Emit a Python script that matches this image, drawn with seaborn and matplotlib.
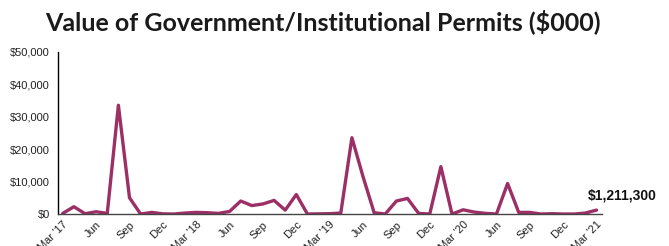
import numpy as np
import pandas as pd
import matplotlib
matplotlib.use('Agg')
import matplotlib.pyplot as plt
import seaborn as sns

# Datos (miles de $), mensual Mar '17 - Mar '21
meses = ['Mar 17', 'Apr 17', 'May 17', 'Jun 17', 'Jul 17', 'Aug 17', 'Sep 17', 'Oct 17', 'Nov 17', 'Dec 17',
         'Jan 18', 'Feb 18', 'Mar 18', 'Apr 18', 'May 18', 'Jun 18', 'Jul 18', 'Aug 18', 'Sep 18', 'Oct 18',
         'Nov 18', 'Dec 18', 'Jan 19', 'Feb 19', 'Mar 19', 'Apr 19', 'May 19', 'Jun 19', 'Jul 19', 'Aug 19',
         'Sep 19', 'Oct 19', 'Nov 19', 'Dec 19', 'Jan 20', 'Feb 20', 'Mar 20', 'Apr 20', 'May 20', 'Jun 20',
         'Jul 20', 'Aug 20', 'Sep 20', 'Oct 20', 'Nov 20', 'Dec 20', 'Jan 21', 'Feb 21', 'Mar 21']
valores = [200, 2250, 100, 700, 200, 33500, 5000, 0, 500, 50,
           0, 300, 500, 400, 200, 800, 4000, 2600, 3100, 4200,
           1200, 6000, 0, 50, 100, 300, 23500, 11500, 400, 0,
           4000, 4800, 200, 0, 14600, 0, 1300, 600, 200, 0,
           9400, 500, 500, 0, 100, 0, 0, 300, 1211.3]
etiquetas_x = ["Mar '17", 'Jun', 'Sep', 'Dec', "Mar '18", 'Jun', 'Sep', 'Dec', "Mar '19",
               'Jun', 'Sep', 'Dec', "Mar '20", 'Jun', 'Sep', 'Dec', "Mar '21"]
etiqueta_final = '$1,211,300'

COLOR = '#9b2f66'

df = pd.DataFrame({'mes': np.arange(len(valores)), 'valor': valores})

sns.set_style('white')
plt.rcParams['font.family'] = ['Liberation Sans', 'DejaVu Sans']

fig = plt.figure(figsize=(6.69, 2.46), dpi=100)
ax = fig.add_axes([0.0872, 0.130, 0.812, 0.660])

sns.lineplot(data=df, x='mes', y='valor', color=COLOR, linewidth=2.4, ax=ax)

ax.set_xlim(-0.4, len(valores) - 1 + 0.45)
ax.set_ylim(0, 50000)
ax.set_yticks(np.arange(0, 50001, 10000))
ax.set_yticklabels(['${:,.0f}'.format(v) for v in np.arange(0, 50001, 10000)], fontsize=8, color='#222222')
ax.set_xticks(np.arange(0, len(valores), 3))
ax.set_xticklabels(etiquetas_x, rotation=45, ha='right', rotation_mode='anchor', fontsize=8, color='#222222')
ax.tick_params(axis='y', length=0, pad=6)
ax.tick_params(axis='x', length=0, pad=4)
ax.set_xlabel('')
ax.set_ylabel('')

# Ejes
for lado in ['top', 'right']:
	ax.spines[lado].set_visible(False)
ax.spines['left'].set_color('black')
ax.spines['left'].set_linewidth(1.0)
ax.spines['bottom'].set_color('#444444')
ax.spines['bottom'].set_linewidth(1.0)

# Etiqueta del ultimo valor
ax.annotate(etiqueta_final, (df['mes'].iloc[-1], df['valor'].iloc[-1]), xytext=(-6.5, 5.5),
            textcoords='offset points', ha='left', va='bottom', fontsize=10, fontweight='bold', color='#111111')

fig.text(0.482, 0.911, 'Value of Government/Institutional Permits ($000)', ha='center', va='center',
         fontsize=18, fontweight='bold', family=['Lato', 'DejaVu Sans'], color='#1a1a1a')

plt.savefig('out.png', dpi=100)
